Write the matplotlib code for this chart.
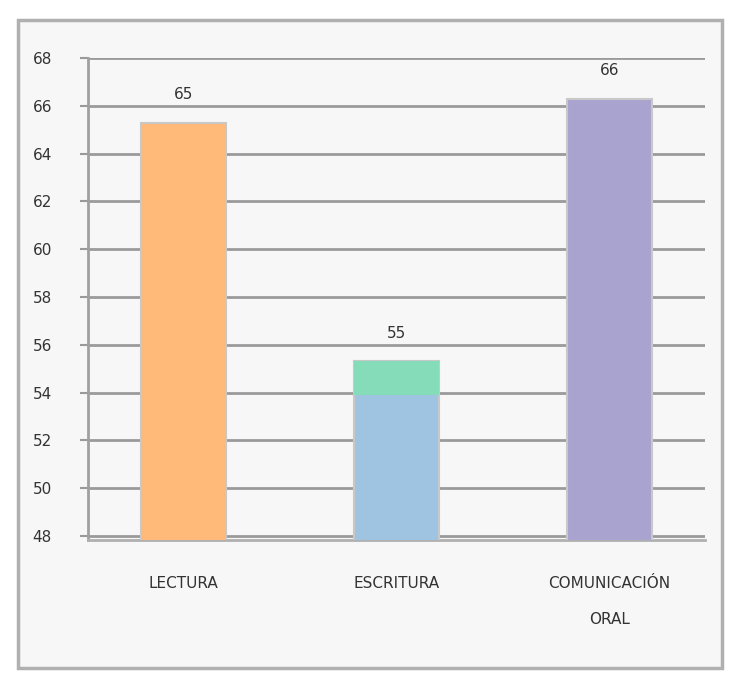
import matplotlib.pyplot as plt
from matplotlib.patches import Rectangle

categories = ["LECTURA", "ESCRITURA", "COMUNICACIÓN\nORAL"]
values = [65.3, 55.3, 66.3]
value_labels = ["65", "55", "66"]
bar_colors = ["#FFB978", "#9FC4E2", "#A9A3CF"]
yticks = [48, 50, 52, 54, 56, 58, 60, 62, 64, 66, 68]

fig = plt.figure(figsize=(7.38, 6.87), dpi=100)
fig.patch.set_facecolor("white")

# outer frame of the chart
frame = Rectangle((18 / 738, 1 - 668 / 687), 704 / 738, 648 / 687,
                  transform=fig.transFigure, facecolor="#F7F7F7",
                  edgecolor="#B0B0B0", linewidth=2.5, zorder=-5)
fig.add_artist(frame)

ax = fig.add_axes([88 / 738, 1 - 540 / 687, 617 / 738, 482 / 687])
ax.set_facecolor("#F7F7F7")

x = range(len(categories))
bars = ax.bar(x, values, width=0.4, color=bar_colors, edgecolor="#C8C8C8",
              linewidth=1.5, zorder=3)
# cap on the ESCRITURA bar
ax.bar(1, 1.4, bottom=values[1] - 1.4, width=0.4, color="#84DDB8", zorder=4)

for xi, v, lab in zip(x, values, value_labels):
    ax.annotate(lab, (xi, v), xytext=(0, 15), textcoords="offset points",
                ha="center", va="bottom", fontsize=11, color="#333333")

ax.set_ylim(47.83, 68)
ax.set_xlim(-0.45, 2.45)
ax.set_yticks(yticks)
ax.set_yticklabels([str(t) for t in yticks], fontsize=11, color="#333333")
ax.set_xticks(list(x))
ax.set_xticklabels(categories, fontsize=11, color="#333333", linespacing=2.7,
                   va="top")
ax.tick_params(axis="y", length=6, pad=20, color="#999999", width=1.5)
ax.tick_params(axis="x", length=0, pad=26)

ax.grid(axis="y", color="#9A9A9A", linewidth=2, zorder=0)
for side in ["top", "right"]:
    ax.spines[side].set_visible(False)
ax.spines["left"].set_color("#A0A0A0")
ax.spines["left"].set_linewidth(2)
ax.spines["bottom"].set_color("#B0B0B0")
ax.spines["bottom"].set_linewidth(2)

fig.savefig("out.png", dpi=100)
plt.close(fig)
